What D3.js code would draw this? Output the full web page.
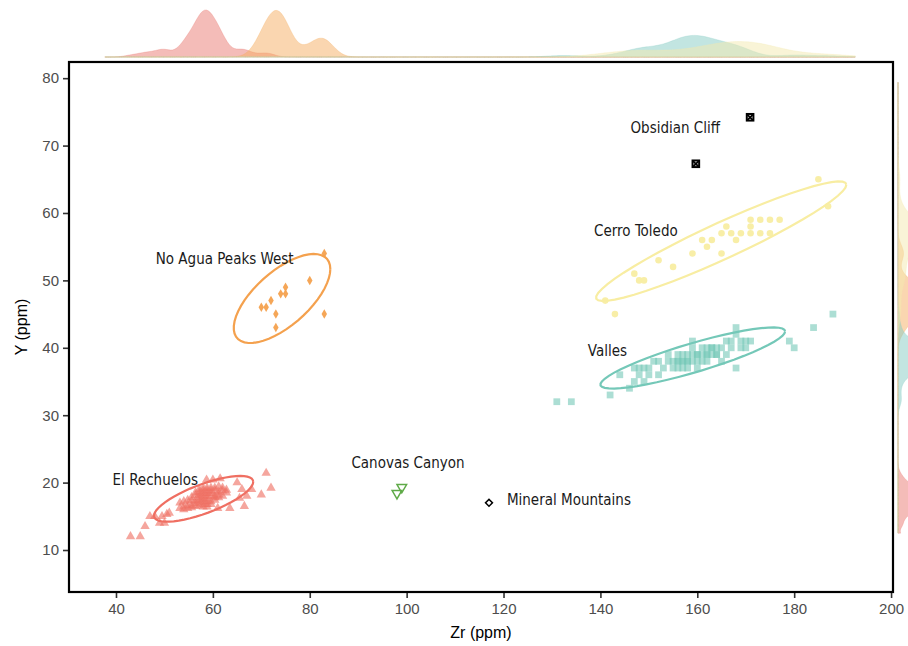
<!DOCTYPE html>
<html><head><meta charset="utf-8">
<script src="https://cdn.jsdelivr.net/npm/d3@7"></script>
<style>body{margin:0;background:#fff}</style>
</head><body>
<svg id="chart" width="908" height="646"></svg>
<script>
// ---------------- DATA ----------------
const groupNames = ["El Rechuelos","No Agua Peaks West","Valles","Cerro Toledo","Canovas Canyon","Mineral Mountains","Obsidian Cliff"];

const elRechuelos = [
  [53.2,16.2],[53.2,17.0],[54,16.4],[54,17.2],[54,16.0],[54.8,16.6],[54.8,17.4],[54.8,16.2],
  [55.6,16.6],[55.6,17.8],[55.6,17.3],[55.6,16.3],[56.4,16.9],[56.4,18.1],[56.4,16.5],[56.4,18.5],[56.4,17.3],
  [57.2,17.4],[57.2,18.2],[57.2,16.6],[57.2,18.6],[57.2,17.8],[57.2,17.0],[57.2,19.0],
  [58,17.6],[58,18.4],[58,16.8],[58,18.8],[58,18.0],[58,16.4],[58,17.2],[58,19.2],
  [58.8,18.0],[58.8,18.8],[58.8,17.2],[58.8,19.2],[58.8,18.4],[58.8,16.8],[58.8,17.6],[58.8,16.4],
  [59.6,18.0],[59.6,18.8],[59.6,17.2],[59.6,19.2],[59.6,18.4],[59.6,16.8],
  [60.4,18.0],[60.4,19.2],[60.4,17.4],[60.4,17.8],[60.4,18.8],[61.2,18.6],[61.2,17.8],[61.2,19.4],[61.2,18.2],
  [62,18.8],[62,18.0],[62,19.2],[62.8,18.9],[62.8,18.5],
  [43,12],[45,12],[46,13.5],[47,15],[48,15],[49,14],[50,14],[50.5,15.3],[51,15.5],[49.5,15],
  [71,21.4],[72,19.2],[70,18.2],[68,19],[65.5,17.7],[63.5,16.2],[61,16.2],[61.5,20.6],[58.7,20.4],[60,20.4],
  [66,19],[67,18],[65,20],[66.5,16.5]];
const noAguaPeaksWest = [[83,54],[80,50],[75,49],[74,48],[75,48],[72,47],[70,46],[71,46],[73,45],[83,45],[73,43]];
const valles = [[131,32],[134,32],[142,33],[144,36],[146,34],[147,35],[147,37],[148,36],[148,37],[149,37],[149,35],[150,37],[150,36],
  [151,38],[152,38],[152,36],[153,37],[154,39],[154,38],[155,37],[155,38],[156,39],[156,38],[156,37],[157,38],[157,39],[158,38],
  [158,37],[158,39],[159,38],[159,41],[159,40],[160,39],[160,37],[161,40],[161,38],[162,38],[162,40],[163,39],[163,40],[164,40],
  [164,39],[165,40],[165,38],[166,41],[166,39],[167,41],[167,40],[168,43],[168,37],[168,42],[169,40],[169,41],[170,41],[170,40],
  [171,41],[179,41],[180,40],[184,43],[188,45],
  [156,38],[157,38],[158,38],[159,39],[160,39],[161,39],[162,39],[163,40],[164,39],[157,37],[160,38],[162,39]];
const cerroToledo = [[141,47],[143,45],[147,51],[148,50],[149,50],[152,53],[155,52],[159,54],[161,56],[162,55],[163,56],[165,54],
  [165,57],[166,58],[167,57],[168,56],[169,57],[171,59],[171,58],[171,57],[173,59],[173,57],[175,59],[175,57],[177,59],[185,65],[187,61]];
const canovasCanyon = [[98,18.4],[99,19.3]];
const mineralMountains = [[117,17]];
const obsidianCliff = [[159.7,67.3],[170.9,74.2]];

// text annotations (data coordinates, left-anchored)
const labelText = ["Obsidian Cliff","Cerro Toledo","No Agua Peaks West","Valles","El Rechuelos","Canovas Canyon","Mineral Mountains"];
const labelZr   = [146.2, 138.7, 48.2, 137.4, 39.3, 88.6, 120.7];
const labelY    = [72.6, 57.3, 53.2, 39.5, 20.4, 22.9, 17.4];

const xTicks = [40,60,80,100,120,140,160,180,200];
const yTicks = [10,20,30,40,50,60,70,80];

// ---------------- SETUP ----------------
const svg = d3.select("#chart");
const panel = {left:69, right:893, top:62, bottom:592};
const x = d3.scaleLinear().domain([30.3, 200.4]).range([panel.left, panel.right]);
const y = d3.scaleLinear().domain([3.77, 82.4]).range([panel.bottom, panel.top]);

const style = {
  "El Rechuelos":       {col:"#EF6F62", dens:"#EA7A72", sym:d3.symbolTriangle, size:38, fillOp:0.62},
  "No Agua Peaks West": {col:"#F4A14E", dens:"#F5AE62", sym:d3.symbolDiamond, size:26, fillOp:0.95},
  "Valles":             {col:"#74C8B8", dens:"#86CCC3", sym:d3.symbolSquare, size:46, fillOp:0.6},
  "Cerro Toledo":       {col:"#F8EDA2", dens:"#F4EAB0", sym:d3.symbolCircle, size:34, fillOp:0.95},
};
const groupData = {
  "El Rechuelos": elRechuelos, "No Agua Peaks West": noAguaPeaksWest, "Valles": valles, "Cerro Toledo": cerroToledo
};
const densGroups = ["El Rechuelos","No Agua Peaks West","Valles","Cerro Toledo"];

// ---------------- MARGINAL DENSITIES ----------------
function bwNrd0(v){
  const s = d3.deviation(v), sorted = v.slice().sort(d3.ascending);
  const iqr = d3.quantileSorted(sorted,0.75) - d3.quantileSorted(sorted,0.25);
  return 0.9*Math.min(s, iqr/1.34)*Math.pow(v.length,-0.2);
}
function kde(v, lo, hi, n){
  const bw = bwNrd0(v);
  const out = [];
  for(let i=0;i<n;i++){
    const g = lo + (hi-lo)*i/(n-1);
    let s = 0;
    for(const a of v){ const u=(g-a)/bw; s += Math.exp(-0.5*u*u); }
    out.push([g, s/(v.length*bw*Math.sqrt(2*Math.PI))]);
  }
  return out;
}
const topD = densGroups.map(g => kde(groupData[g].map(d=>d[0]), 37.7, 192.6, 400));
const rightD = densGroups.map(g => kde(groupData[g].map(d=>d[1]), 12.5, 79.4, 400));
const topMax = d3.max(topD, a=>d3.max(a,d=>d[1]));
const rightMax = d3.max(rightD, a=>d3.max(a,d=>d[1]));
const topH = d3.scaleLinear().domain([0, topMax]).range([57, 10]);
const rightW = d3.scaleLinear().domain([0, rightMax]).range([898, 945]);

const topArea = d3.area().x(d=>x(d[0])).y0(57).y1(d=>topH(d[1]));
const rightArea = d3.area().y(d=>y(d[0])).x0(898).x1(d=>rightW(d[1]));
const gTop = svg.append("g");
topD.forEach((a,i)=>{
  gTop.append("path").attr("d", topArea(a)).attr("fill", style[densGroups[i]].dens)
    .attr("fill-opacity",0.5).attr("stroke", style[densGroups[i]].dens).attr("stroke-opacity",0.35).attr("stroke-width",0.8);
});
const gRight = svg.append("g");
rightD.forEach((a,i)=>{
  gRight.append("path").attr("d", rightArea(a)).attr("fill", style[densGroups[i]].dens)
    .attr("fill-opacity",0.5).attr("stroke", style[densGroups[i]].dens).attr("stroke-opacity",0.35).attr("stroke-width",0.8);
});

// ---------------- ELLIPSES (robust t, like stat_ellipse) ----------------
function covTrob(pts, nu=5){
  const n = pts.length, p = 2;
  let w = pts.map(()=>1);
  let loc = [d3.mean(pts,d=>d[0]), d3.mean(pts,d=>d[1])];
  for(let it=0; it<100; it++){
    const sw = d3.sum(w);
    let a=0,b=0,c=0;
    pts.forEach((d,i)=>{const dx=d[0]-loc[0], dy=d[1]-loc[1]; a+=w[i]*dx*dx; b+=w[i]*dx*dy; c+=w[i]*dy*dy;});
    a/=sw; b/=sw; c/=sw;
    const det = a*c-b*b;
    const wn = pts.map(d=>{const dx=d[0]-loc[0], dy=d[1]-loc[1];
      const Q = (c*dx*dx - 2*b*dx*dy + a*dy*dy)/det; return (nu+p)/(nu+Q);});
    const swn = d3.sum(wn);
    loc = [d3.sum(pts,(d,i)=>wn[i]*d[0])/swn, d3.sum(pts,(d,i)=>wn[i]*d[1])/swn];
    const diff = d3.max(wn,(v,i)=>Math.abs(v-w[i]));
    w = wn;
    if(diff < 1e-4) break;
  }
  let a=0,b=0,c=0;
  pts.forEach((d,i)=>{const dx=d[0]-loc[0], dy=d[1]-loc[1]; a+=w[i]*dx*dx; b+=w[i]*dx*dy; c+=w[i]*dy*dy;});
  return {loc, cov:[a/n, b/n, c/n]};
}
function ellipsePts(pts, level=0.95){
  const {loc, cov} = covTrob(pts);
  const m = pts.length-1;
  const qf = (m/2)*(Math.pow(1-level, -2/m)-1);
  const r = Math.sqrt(2*qf);
  const ca = Math.sqrt(cov[0]), cb = cov[1]/ca, cc = Math.sqrt(cov[2]-cb*cb);
  const out=[];
  for(let i=0;i<=51;i++){
    const t = i*2*Math.PI/51;
    out.push([loc[0] + r*Math.cos(t)*ca, loc[1] + r*(Math.cos(t)*cb + Math.sin(t)*cc)]);
  }
  return out;
}

const gMain = svg.append("g");
densGroups.forEach(g=>{
  const st = style[g];
  gMain.append("g").selectAll("path").data(groupData[g]).join("path")
    .attr("d", d3.symbol().type(st.sym).size(st.size))
    .attr("transform", d=>`translate(${x(d[0])},${y(d[1])})`)
    .attr("fill", st.col).attr("fill-opacity", st.fillOp);
});
const line = d3.line().x(d=>x(d[0])).y(d=>y(d[1]));
densGroups.forEach(g=>{
  gMain.append("path").attr("d", line(ellipsePts(groupData[g])))
    .attr("fill","none").attr("stroke", style[g].col).attr("stroke-width",2.2);
});
gMain.append("g").selectAll("path").data(canovasCanyon).join("path")
  .attr("d", d3.symbol().type(d3.symbolTriangle).size(40))
  .attr("transform", d=>`translate(${x(d[0])},${y(d[1])}) rotate(180)`)
  .attr("fill","none").attr("stroke","#5FAA48").attr("stroke-width",1.5);
gMain.append("g").selectAll("path").data(mineralMountains).join("path")
  .attr("d", d3.symbol().type(d3.symbolSquare).size(24))
  .attr("transform", d=>`translate(${x(d[0])},${y(d[1])}) rotate(45)`)
  .attr("fill","none").attr("stroke","#000").attr("stroke-width",1.5);
const oc = gMain.append("g").selectAll("g").data(obsidianCliff).join("g")
  .attr("transform", d=>`translate(${x(d[0])},${y(d[1])})`);
oc.append("rect").attr("x",-3.3).attr("y",-3.3).attr("width",6.6).attr("height",6.6)
  .attr("fill","#fff").attr("stroke","#000").attr("stroke-width",2);
oc.append("path").attr("d","M-3,-3L3,3M-3,3L3,-3").attr("stroke","#000").attr("stroke-width",1.8);

gMain.append("g").selectAll("text").data(labelText).join("text")
  .attr("x",(d,i)=>x(labelZr[i])).attr("y",(d,i)=>y(labelY[i]))
  .attr("dominant-baseline","central")
  .attr("font-family","'Liberation Sans Narrow','Arial Narrow','DejaVu Sans Condensed',sans-serif")
  .attr("font-size",15).attr("fill","#1a1a1a").text(d=>d);

// ---------------- AXES & FRAME ----------------
const xAxis = svg.append("g").attr("transform",`translate(0,${panel.bottom})`)
  .call(d3.axisBottom(x).tickValues(xTicks).tickSize(6).tickPadding(5).tickFormat(d3.format("d")));
const yAxis = svg.append("g").attr("transform",`translate(${panel.left},0)`)
  .call(d3.axisLeft(y).tickValues(yTicks).tickSize(6).tickPadding(4).tickFormat(d3.format("d")));
[xAxis,yAxis].forEach(a=>{
  a.select(".domain").remove();
  a.selectAll(".tick line").attr("stroke","#333").attr("stroke-width",1.6);
  a.selectAll(".tick text").attr("font-family","'Liberation Sans',Arial,sans-serif").attr("font-size",15).attr("fill","#4D4D4D");
});
svg.append("rect").attr("x",panel.left).attr("y",panel.top)
  .attr("width",panel.right-panel.left).attr("height",panel.bottom-panel.top)
  .attr("fill","none").attr("stroke","#000").attr("stroke-width",2.2);

svg.append("text").attr("x",(panel.left+panel.right)/2).attr("y",638).attr("text-anchor","middle")
  .attr("font-family","'Liberation Sans',Arial,sans-serif").attr("font-size",16).attr("fill","#000").text("Zr (ppm)");
svg.append("text").attr("transform",`translate(27,${(panel.top+panel.bottom)/2}) rotate(-90)`).attr("text-anchor","middle")
  .attr("font-family","'Liberation Sans',Arial,sans-serif").attr("font-size",16).attr("fill","#000").text("Y (ppm)");
</script>
</body></html>
